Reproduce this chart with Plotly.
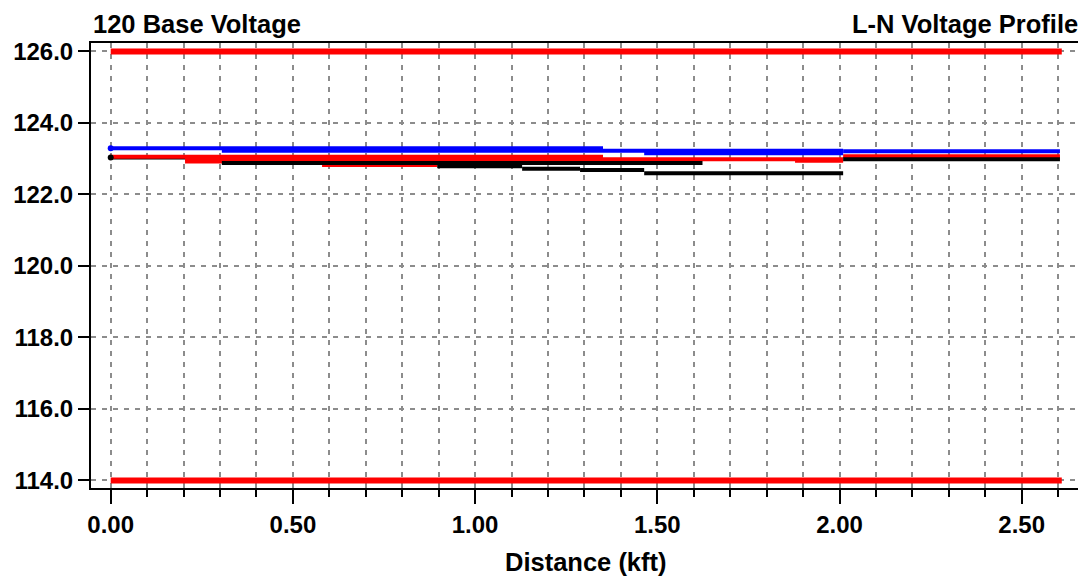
import plotly.graph_objects as go

# ---- data ----
limit_dist = [0.0, 2.61]
upper_limit = [126.0, 126.0]
lower_limit = [114.0, 114.0]

# profile segments: start distance, end distance, voltage (kft, V)
blue_d0 = [0.0, 0.305, 1.464, 2.010]
blue_d1 = [1.351, 2.010, 2.010, 2.605]
blue_v = [123.29, 123.22, 123.15, 123.21]

red_d0 = [0.0, 0.204, 0.204, 0.580, 1.878, 2.010]
red_d1 = [1.351, 2.010, 0.580, 0.896, 2.010, 2.605]
red_v = [123.05, 122.98, 122.92, 122.82, 122.94, 123.07]

black_d0 = [0.0, 0.305, 0.896, 1.129, 1.288, 1.464, 2.010]
black_d1 = [0.305, 1.624, 1.129, 1.288, 1.464, 2.010, 2.605]
black_v = [123.03, 122.88, 122.79, 122.72, 122.68, 122.59, 122.98]

x_ticks = [0.0, 0.5, 1.0, 1.5, 2.0, 2.5]
y_ticks = [114.0, 116.0, 118.0, 120.0, 122.0, 124.0, 126.0]


def segs(d0, d1, v):
    xs, ys = [], []
    for a, b, c in zip(d0, d1, v):
        xs += [a, b, None]
        ys += [c, c, None]
    return xs, ys


def add_profile(fig, d0, d1, v, col):
    xs, ys = segs(d0, d1, v)
    fig.add_trace(go.Scatter(x=xs, y=ys, mode="lines",
                             line=dict(color=col, width=4), hoverinfo="skip"))


fig = go.Figure()
fig.add_trace(go.Scatter(x=limit_dist, y=upper_limit, mode="lines",
                         line=dict(color="#ff0000", width=6), hoverinfo="skip"))
fig.add_trace(go.Scatter(x=limit_dist, y=lower_limit, mode="lines",
                         line=dict(color="#ff0000", width=6), hoverinfo="skip"))

# first black segment lies beneath the red trunk, the others over it
add_profile(fig, black_d0[:1], black_d1[:1], black_v[:1], "#000000")
add_profile(fig, red_d0, red_d1, red_v, "#ff0000")
add_profile(fig, black_d0[1:], black_d1[1:], black_v[1:], "#000000")
add_profile(fig, blue_d0, blue_d1, blue_v, "#0000ff")

# start-point dots
fig.add_trace(go.Scatter(x=[blue_d0[0], black_d0[0]], y=[blue_v[0], black_v[0]], mode="markers",
                         marker=dict(color=["#0000ff", "#000000"], size=6), hoverinfo="skip"))

font = dict(family="Liberation Sans, Arial, sans-serif", size=24, color="black", weight="bold")
tfont = dict(font, size=25.5)

# the page body adds an 8px offset, so the figure is sized to fill the rest of the window
fig.update_layout(
    width=1078, height=572,
    margin=dict(l=83, r=6, t=35, b=92, autoexpand=False),
    paper_bgcolor="white", plot_bgcolor="white",
    showlegend=False,
    font=font,
    annotations=[
        dict(text="120 Base Voltage", x=0, y=1.043, xref="paper", yref="paper",
             xanchor="left", yanchor="middle", showarrow=False, font=tfont),
        dict(text="L-N Voltage Profile", x=1, y=1.043, xref="paper", yref="paper",
             xanchor="right", yanchor="middle", showarrow=False, font=tfont),
        dict(text="Distance (kft)", x=0.5, y=-0.166, xref="paper", yref="paper",
             xanchor="center", yanchor="middle", showarrow=False, font=tfont),
    ],
)

grid_style = dict(gridcolor="#8c8c8c", gridwidth=1.5, griddash="5px,6px")

fig.update_xaxes(
    range=[-0.0541, 2.660], automargin=False,
    tickvals=x_ticks, tickformat=".2f",
    ticks="outside", ticklen=14, tickwidth=2, tickcolor="black",
    showline=True, linecolor="black", linewidth=2, mirror=True,
    showgrid=True, **grid_style, zeroline=False,
    minor=dict(dtick=0.1, tick0=0, ticks="outside", ticklen=7, tickwidth=2,
               tickcolor="black", showgrid=True, **grid_style),
    tickfont=font,
)
fig.update_yaxes(
    range=[113.787, 126.235], automargin=False,
    tickvals=y_ticks, tickformat=".1f",
    ticks="outside", ticklen=11, tickwidth=2, tickcolor="black",
    showline=True, linecolor="black", linewidth=2, mirror=True,
    showgrid=True, **grid_style, zeroline=False,
    tickfont=font,
)

fig.write_html("out.html")
